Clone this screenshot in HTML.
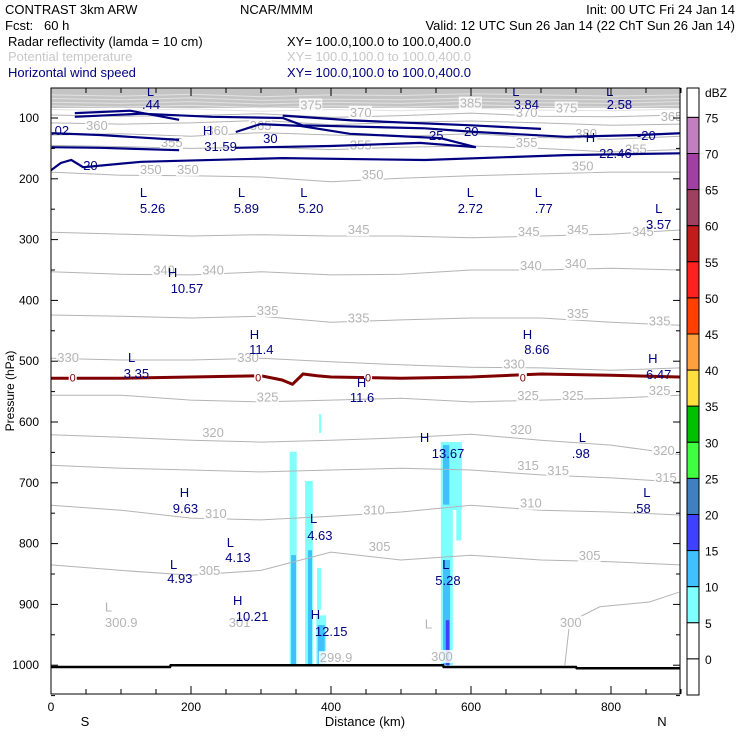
<!DOCTYPE html>
<html><head><meta charset="utf-8"><style>
body{margin:0;background:#fff;width:740px;height:740px;overflow:hidden}
svg{display:block;font-family:"Liberation Sans",sans-serif}
</style></head><body>
<svg id="chart" width="740" height="740" viewBox="0 0 740 740">
<g font-size="13">
<text x="5" y="14" fill="#000">CONTRAST  3km ARW</text>
<text x="240" y="14" fill="#000">NCAR/MMM</text>
<text x="735" y="14" fill="#000" text-anchor="end">Init: 00 UTC Fri 24 Jan 14</text>
<text x="5" y="30" fill="#000" xml:space="preserve">Fcst:   60 h</text>
<text x="735" y="30" fill="#000" text-anchor="end">Valid: 12 UTC Sun 26 Jan 14 (22 ChT Sun 26 Jan 14)</text>
<text x="8" y="46" fill="#000">Radar reflectivity (lamda = 10 cm)</text>
<text x="287" y="46" fill="#000">XY= 100.0,100.0 to 100.0,400.0</text>
<text x="8" y="61" fill="#c8c8c8">Potential temperature</text>
<text x="287" y="61" fill="#c8c8c8">XY= 100.0,100.0 to 100.0,400.0</text>
<text x="8" y="77" fill="#000080">Horizontal wind speed</text>
<text x="287" y="77" fill="#000080">XY= 100.0,100.0 to 100.0,400.0</text>
</g>
<g id="plot"></g>
<g id="cbar"></g>
</svg>
<script>
// ---- data ----
const xKm = [0,100,200,300,400,500,600,700,800,900];
const thetaLevels = [350,345,340,335,330,325,320,315,310,305];
const thetaP = [
 [189,194,195,197,205,199,195,192,189,189],
 [288,291,294,292,294,294,297,294,291,284],
 [353,357,358,353,358,357,350,350,347,350],
 [424,426,429,426,436,432,429,429,436,441],
 [495,498,498,495,501,506,510,511,515,511],
 [556,556,564,567,564,561,567,564,561,556],
 [621,625,630,633,630,626,620,630,638,654],
 [671,676,679,682,679,676,679,687,692,699],
 [737,745,758,761,755,748,737,745,748,753],
 [835,844,852,844,814,827,819,827,830,835]
];
const upperThetaP = [
 [62,64,61,65,62,63,60,62,64,62],
 [68,70,67,71,69,70,67,69,70,68],
 [74,76,73,77,74,76,72,75,76,73],
 [80,82,79,83,80,82,78,81,82,79],
 [86,88,85,89,86,88,84,87,88,85],
 [95,97,96,93,99,96,92,97,98,95],
 [108,110,108,104,111,107,105,108,112,110],
 [128,126,130,124,128,130,126,132,135,130],
 [145,147,150,148,152,148,146,150,156,152]
];
const theta300Km = [734,741,784,855,897];
const theta300P = [1000,929,904,896,880];
const thetaLabels = [
 ["350",127,192],["350",180,192],["350",444,200],["350",744,186],
 ["345",424,291],["345",667,294],["345",737,291],["345",830,294],
 ["340",146,357],["340",216,357],["340",670,350],["340",734,347],
 ["335",294,424],["335",424,436],["335",737,429],["335",854,441],
 ["330",9,501],["330",266,501],["330",646,512],
 ["325",294,566],["325",666,564],["325",730,564],["325",854,556],
 ["320",216,625],["320",656,620],["320",860,654],
 ["315",666,679],["315",709,687],["315",863,699],
 ["310",220,758],["310",446,752],["310",670,741],
 ["305",211,852],["305",454,812],["305",754,827],
 ["300",727,937],["301",254,937],["300.9",77,937],["299.9",384,995],["300",543,993],
 ["375",356,86],["370",427,98],["385",584,83],["370",664,98],["375",721,91],["365",871,105],
 ["360",50,120],["360",222,128],["365",284,120],["355",157,148],["355",427,152],["355",664,148],["380",749,133],["355",820,158]
];
const grayLetters = [["L",77,912],["L",534,940]];
const windLines = [
 {km:[0,14,29,46,129,331,534,736,899],p:[186,174,169,181,172,166,169,161,158]},
 {km:[1,70,183],p:[148,149,153]},
 {km:[1,70,183],p:[125,128,136]},
 {km:[34,113,183],p:[92,88,103]},
 {km:[34,129,230,331,359,534,607,736,841,899],p:[98,93,98,100,112,117,123,131,128,125]},
 {km:[264,399,527,607,556,427,356,299,264],p:[149,146,141,148,133,126,113,110,123]},
 {km:[331,430,600,700],p:[96,104,112,118]}
];
// label rows: text, km, screen row (px)
const windLabels = [
 [".44",130,109],[".02",0,135],["31.59",219,151],["30",303,143],["25",540,140],["20",590,136],
 ["3.84",661,109],["2.58",794,109],["22.46",783,158],["-20",837,140],["20",46,170],
 ["5.26",127,213],["5.89",261,213],["5.20",353,213],["2.72",581,213],[".77",691,213],["3.57",850,229],
 ["10.57",171,293],["11.4",283,354],["8.66",676,354],["3.35",104,378],["6.47",850,379],["11.6",427,402],
 ["13.67",544,458],[".98",744,458],["9.63",174,513],[".58",831,513],["4.13",249,562],["4.63",366,540],
 ["4.93",166,583],["5.28",549,585],["10.21",264,621],["12.15",377,636]
];
const extremaLetters = [
 ["L",137,96],["H",217,135],["L",659,96],["L",793,96],["H",764,142],
 ["L",127,197],["L",267,197],["L",356,197],["L",594,197],["L",691,197],["L",863,213],
 ["H",167,277],["H",284,339],["H",674,339],["L",110,362],["H",853,363],["H",437,387],
 ["H",527,442],["L",754,442],["H",184,497],["L",846,497],["L",251,547],["L",370,523],
 ["L",170,569],["L",559,569],["H",260,605],["H",371,619]
];
const freezeKm = [0,100,200,300,330,345,360,380,400,500,600,700,800,900];
const freezeP = [528,528,526,524,531,538,521,524,526,528,526,521,523,526];
const zeroLabelKm = [31,296,453,674];
const reflL = [341,363,379,380,383,557,557,579,343,367,381,560,560,564];
const reflR = [351,374,393,386,386,587,574,586,350,373,391,569,570,569];
const reflTop = [649,697,918,840,587,633,633,745,819,811,934,638,827,926];
const reflBot = [1000,1000,1000,909,618,745,1000,795,1000,1000,1000,736,1000,1000];
const reflLevel = [1,1,1,1,1,1,1,1,2,2,2,2,2,3];
const surfKm = [0,170,171,560,561,750,751,899];
const surfP = [1003,1003,1000,1000,1003,1003,1005,1005];
const yTicks = [100,200,300,400,500,600,700,800,900,1000];
const xTicks = [0,200,400,600,800];
const cbarLabels = ["75","70","65","60","55","50","45","40","35","30","25","20","15","10","5","0"];
const cbarColors = ["#ffffff","#c080c0","#a040a0","#a04060","#c01c1c","#ff2020","#ff4000","#ffa040","#ffe040","#00c000","#40ff40","#4080c0","#4040ff","#40c0ff","#80ffff","#ffffff","#ffffff"];
const dbzColors = ["#ffffff","#80ffff","#40c0ff","#4040ff"];

// ---- axes ----
const X0=51, X1=680, Y0=88, Y1=694;
const X = km => X0 + km*0.7;
const Y = p => 118 + (p-100)*0.608;
const NS="http://www.w3.org/2000/svg";
const plot=document.getElementById('plot');
function mk(tag,attrs,parent){const e=document.createElementNS(NS,tag);for(const k in attrs)e.setAttribute(k,attrs[k]);(parent||plot).appendChild(e);return e;}
function pts(kms,ps){return kms.map((k,i)=>X(k).toFixed(1)+','+Y(ps[i]).toFixed(1)).join(' ');}

const clip=mk('clipPath',{id:'pc'});mk('rect',{x:X0,y:Y0,width:X1-X0,height:Y1-Y0},clip);
const g=mk('g',{'clip-path':'url(#pc)'});

let band=mk('rect',{x:X0,y:Y0,width:X1-X0,height:20,fill:'#c4c4c4'},g);


upperThetaP.forEach((row,i)=>{
  let l=mk('polyline',{points:pts(xKm,row),fill:'none',stroke:i<5?'#e2e2e2':'#b4b4b4','stroke-width':1},g);
  
  
});
reflL.forEach((_,i)=>{
  let r=mk('rect',{x:X(reflL[i]),y:Y(reflTop[i]),width:X(reflR[i])-X(reflL[i]),height:Y(reflBot[i])-Y(reflTop[i]),fill:dbzColors[reflLevel[i]]},g);
  
  
});
thetaP.forEach((row,i)=>{
  let l=mk('polyline',{points:pts(xKm,row),fill:'none',stroke:'#b4b4b4','stroke-width':1},g);
  
  
});
let t300=mk('polyline',{points:pts(theta300Km,theta300P),fill:'none',stroke:'#b4b4b4','stroke-width':1},g);


thetaLabels.forEach(t=>{
  let bg=mk('rect',{x:X(t[1])-1,y:Y(t[2])-11,width:t[0].length*7+2,height:13,fill:'#fff','fill-opacity':0.85},g);
  
  
  let e=mk('text',{x:X(t[1]),y:Y(t[2]),fill:'#b4b4b4','font-size':13},g);e.textContent=t[0];
  
  
});
grayLetters.forEach(t=>{
  let e=mk('text',{x:X(t[1]),y:Y(t[2]),fill:'#b4b4b4','font-size':13},g);e.textContent=t[0];
  
  
});
let fz=mk('polyline',{points:pts(freezeKm,freezeP),fill:'none',stroke:'#800000','stroke-width':3},g);


zeroLabelKm.forEach(k=>{
  let c=mk('rect',{x:X(k)-4,y:Y(527)-5,width:8,height:10,fill:'#fff'},g);
  
  
  let e=mk('text',{x:X(k),y:Y(527)+4,fill:'#800000','font-size':11,'text-anchor':'middle'},g);e.textContent='0';
  
  
});
windLines.forEach(w=>{
  let l=mk('polyline',{points:pts(w.km,w.p),fill:'none',stroke:'#000080','stroke-width':2.2},g);
  
  
});
windLabels.forEach(t=>{
  let e=mk('text',{x:X(t[1]),y:t[2],fill:'#000080','font-size':13},g);e.textContent=t[0];
  
  
});
extremaLetters.forEach(t=>{
  let e=mk('text',{x:X(t[1]),y:t[2],fill:'#000080','font-size':13},g);e.textContent=t[0];
  
  
});
let sf=mk('polyline',{points:pts(surfKm,surfP),fill:'none',stroke:'#000','stroke-width':2.5},g);



let fr=mk('rect',{x:X0,y:Y0,width:X1-X0,height:Y1-Y0,fill:'none',stroke:'#000','stroke-width':1});


for(let p=100;p<=1050;p+=50){
  const len=p%100===0?7:4;
  mk('line',{x1:X0,y1:Y(p),x2:X0+len,y2:Y(p),stroke:'#000'});
  mk('line',{x1:X1,y1:Y(p),x2:X1-len,y2:Y(p),stroke:'#000'});
}
for(let k=0;k<=900;k+=50){
  const len=k%200===0?8:5;
  mk('line',{x1:X(k),y1:Y1,x2:X(k),y2:Y1-len,stroke:'#000'});
  mk('line',{x1:X(k),y1:Y0,x2:X(k),y2:Y0+len,stroke:'#000'});
}
yTicks.forEach(p=>{
  let e=mk('text',{x:39,y:Y(p)+4,'font-size':12,'text-anchor':'end',fill:'#000'});e.textContent=p;
  
  
});
xTicks.forEach(k=>{
  let e=mk('text',{x:X(k),y:711,'font-size':12,'text-anchor':'middle',fill:'#000'});e.textContent=k;
  
  
});
let xt=mk('text',{x:365,y:726,'font-size':13,'text-anchor':'middle'});xt.textContent='Distance (km)';


let sL=mk('text',{x:85,y:726,'font-size':13,'text-anchor':'middle'});sL.textContent='S';


let nL=mk('text',{x:662,y:726,'font-size':13,'text-anchor':'middle'});nL.textContent='N';


let yt=mk('text',{x:14,y:391,'font-size':12,'text-anchor':'middle',transform:'rotate(-90 14 391)'});yt.textContent='Pressure (hPa)';



const cb=document.getElementById('cbar');
const cbTop=88, cbBot=695, cell=36.1, cbx=687, cbw=12;
cbarColors.forEach((c,i)=>{
  const y0=i===0?cbTop:cbBot-(17-i)*cell;
  const y1=cbBot-(16-i)*cell;
  let r=mk('rect',{x:cbx,y:y0,width:cbw,height:y1-y0,fill:c,stroke:'#000','stroke-width':1},cb);
  
  
});
cbarLabels.forEach((l,i)=>{
  let e=mk('text',{x:705,y:cbBot-(15-i)*cell-cell+5,'font-size':12,fill:'#000'},cb);e.textContent=l;
  
  
});
let u=mk('text',{x:705,y:97,'font-size':12,fill:'#000'},cb);u.textContent='dBZ';


</script>
</body></html>
